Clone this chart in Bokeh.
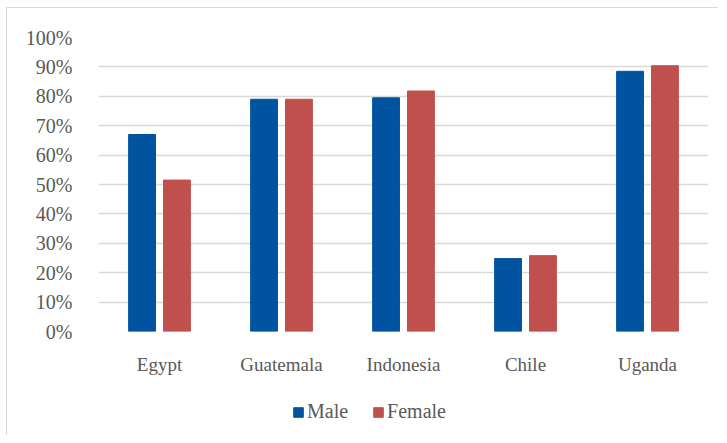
from bokeh.plotting import figure
from bokeh.models import FactorRange, NumeralTickFormatter, Legend, LegendItem, ColumnDataSource, Range1d
from bokeh.layouts import column
from bokeh.transform import dodge
from bokeh.embed import file_html
from bokeh.resources import INLINE

countries = ["Egypt", "Guatemala", "Indonesia", "Chile", "Uganda"]
male = [0.67, 0.79, 0.795, 0.248, 0.885]
female = [0.515, 0.79, 0.818, 0.258, 0.904]
y_ticks = [0, 0.1, 0.2, 0.3, 0.4, 0.5, 0.6, 0.7, 0.8, 0.9, 1.0]
series = ["Male", "Female"]
fields = ["male", "female"]
colors = ["#00549F", "#C0504D"]
offsets = [-0.143, 0.143]

FONT = "Liberation Serif"
GRAY = "#595959"

src = ColumnDataSource(dict(country=countries, male=male, female=female))

p = figure(x_range=FactorRange(*countries, range_padding=0), y_range=Range1d(0, 1),
           width=711, height=385, output_backend="svg", toolbar_location=None,
           min_border_left=91, min_border_right=10, min_border_top=29, min_border_bottom=62)
p.outline_line_color = None

for f, c, o in zip(fields, colors, offsets):
    p.vbar(x=dodge("country", o, range=p.x_range), top=f, width=0.22,
           source=src, fill_color=c, line_color=c)

p.yaxis.ticker = y_ticks
p.yaxis.formatter = NumeralTickFormatter(format="0%")
for ax in (p.xaxis[0], p.yaxis[0]):
    ax.axis_line_color = None
    ax.major_tick_line_color = None
    ax.minor_tick_line_color = None
    ax.major_label_text_font = FONT
    ax.major_label_text_font_size = "19px"
    ax.major_label_text_color = GRAY
p.yaxis.major_label_text_font_size = "20px"
p.yaxis.major_label_standoff = 20
p.xaxis.major_label_standoff = 16

p.xgrid.grid_line_color = None
p.ygrid.grid_line_color = "#d9d9d9"
p.ygrid.grid_line_width = 1.5

# legend strip below the chart (its bars fall outside its view; only the legend shows)
lg = figure(width=711, height=42, x_range=FactorRange(*countries, range_padding=0),
            y_range=Range1d(2, 3), output_backend="svg", toolbar_location=None,
            min_border_left=0, min_border_right=0, min_border_top=0, min_border_bottom=0)
lg.axis.visible = False
lg.grid.grid_line_color = None
lg.outline_line_color = None
items = []
for name, f, c, o in zip(series, fields, colors, offsets):
    r = lg.vbar(x=dodge("country", o, range=lg.x_range), top=f, width=0.22,
                source=src, fill_color=c, line_color=c)
    items.append(LegendItem(label=name, renderers=[r]))
legend = Legend(items=items, orientation="horizontal", location=(194, 12),
                label_text_font=FONT, label_text_font_size="20px", label_text_color=GRAY,
                glyph_width=12, glyph_height=12, label_standoff=3, spacing=24,
                padding=0, margin=0, border_line_color=None, background_fill_alpha=0)
lg.add_layout(legend, "center")

layout = column(p, lg, spacing=0)
layout.styles = {"border-left": "1px solid #d9d9d9", "border-top": "1px solid #d9d9d9",
                 "margin-left": "6px", "margin-top": "7px"}

open("out.html", "w").write(file_html(layout, INLINE))
